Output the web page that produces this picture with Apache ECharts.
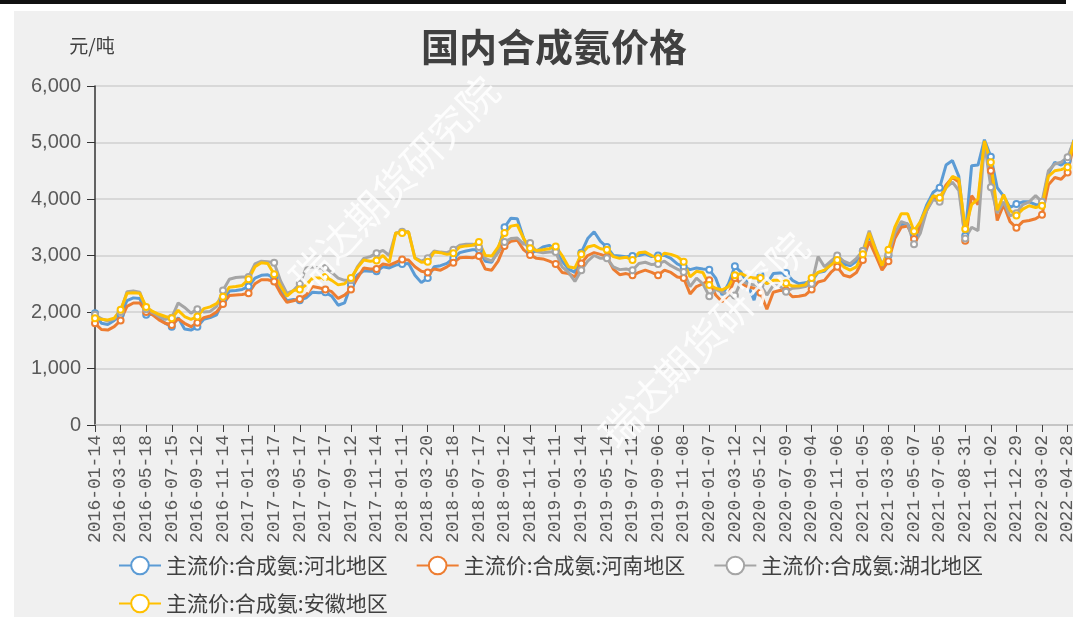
<!DOCTYPE html>
<html>
<head>
<meta charset="utf-8">
<script src="https://cdn.jsdelivr.net/npm/echarts@6/dist/echarts.min.js"></script>
<style>
  html, body { margin: 0; padding: 0; background: #fff; overflow: hidden; }
  body { width: 1073px; height: 634px; position: relative; }
  #topline { position: absolute; left: 0; top: 0; width: 1066px; height: 4px; background: #111; }
  #main { position: absolute; left: 14px; top: 11px; width: 1070px; height: 606px; background: #f0f0f0; }
</style>
</head>
<body>
<div id="topline"></div>
<div id="main"></div>
<script>
// label dates shown on the x axis (every 4th category)
const tickDates = [
    '2016-01-14', '2016-03-18', '2016-05-18', '2016-07-15', '2016-09-12', '2016-11-14',
    '2017-01-11', '2017-03-17', '2017-05-17', '2017-07-17', '2017-09-12', '2017-11-14',
    '2018-01-11', '2018-03-20', '2018-05-18', '2018-07-17', '2018-09-12', '2018-11-14',
    '2019-01-11', '2019-03-14', '2019-05-14', '2019-07-11', '2019-09-06', '2019-11-08',
    '2020-01-07', '2020-03-12', '2020-05-12', '2020-07-09', '2020-09-04', '2020-11-06',
    '2021-01-05', '2021-03-08', '2021-05-07', '2021-07-05', '2021-08-31', '2021-11-02',
    '2021-12-29', '2022-03-02', '2022-04-28'
];
const lastDate = '2022-05-12';

// 元/吨
const hebei = [
    1980, 1800, 1780, 1850,  1950, 2200, 2250, 2240,  1950, 1960, 1880, 1800,  1740, 1900, 1700, 1680,
    1740, 1870, 1900, 1950,  2200, 2370, 2380, 2400,  2450, 2600, 2650, 2660,  2600, 2380, 2200, 2220,
    2210, 2250, 2350, 2340,  2350, 2280, 2120, 2160,  2480, 2650, 2730, 2720,  2720, 2800, 2780, 2830,
    2850, 2860, 2650, 2520,  2600, 2800, 2820, 2860,  2950, 3050, 3080, 3100,  3100, 2900, 2880, 3100,
    3500, 3660, 3650, 3300,  3050, 3080, 3150, 3180,  3100, 2900, 2760, 2700,  3050, 3300, 3420, 3250,
    3150, 3000, 2990, 2980,  2990, 3000, 3030, 2980,  3000, 3000, 2950, 2850,  2800, 2750, 2780, 2760,
    2750, 2600, 2300, 2500,  2810, 2700, 2500, 2210,  2650, 2500, 2680, 2690,  2690, 2560, 2500, 2520,
    2540, 2700, 2720, 2850,  2950, 2850, 2820, 2900,  3080, 3350, 3050, 2800,  3000, 3350, 3550, 3560,
    3350, 3600, 3900, 4120,  4200, 4600, 4680, 4400,  3350, 4590, 4600, 5050,  4750, 4200, 4050, 3850,
    3910, 3950, 3950, 3900,  3900, 4450, 4650, 4600,  4680, 5050
];
const henan = [
    1800, 1690, 1680, 1740,  1850, 2100, 2160, 2160,  2000, 1950, 1860, 1800,  1770, 1880, 1800, 1740,
    1810, 1900, 1930, 2000,  2140, 2290, 2300, 2310,  2330, 2500, 2570, 2570,  2540, 2330, 2170, 2200,
    2230, 2300, 2450, 2430,  2400, 2360, 2240, 2300,  2400, 2600, 2780, 2760,  2760, 2850, 2830, 2880,
    2930, 2920, 2800, 2720,  2700, 2760, 2740, 2800,  2870, 2960, 2970, 2960,  2990, 2760, 2740, 2900,
    3170, 3250, 3270, 3100,  3010, 2950, 2940, 2900,  2850, 2700, 2680, 2620,  2860, 3000, 3050, 3020,
    2980, 2760, 2660, 2680,  2650, 2700, 2740, 2700,  2650, 2740, 2700, 2620,  2600, 2320, 2450, 2500,
    2560, 2300, 2180, 2300,  2600, 2500, 2450, 2420,  2340, 2050, 2350, 2380,  2380, 2270, 2280, 2300,
    2400, 2530, 2560, 2700,  2800, 2650, 2620, 2700,  2920, 3250, 3000, 2740,  2900, 3300, 3500, 3520,
    3290, 3500, 3800, 4020,  4000, 4250, 4380, 4300,  3260, 4060, 3900, 4980,  4500, 3620, 3900, 3600,
    3490, 3600, 3620, 3650,  3720, 4250, 4380, 4350,  4470, 4980
];
const hubei = [
    1950, 1880, 1840, 1880,  2000, 2360, 2370, 2350,  2050, 1990, 1920, 1870,  1900, 2160, 2080, 1980,
    2050, 2000, 2010, 2100,  2380, 2580, 2610, 2620,  2620, 2850, 2900, 2890,  2870, 2550, 2330, 2380,
    2500, 2780, 2800, 2780,  2780, 2700, 2600, 2560,  2560, 2800, 2950, 2980,  3040, 3090, 3000, 3400,
    3420, 3420, 2960, 2900,  2950, 3080, 3060, 3050,  3100, 3180, 3200, 3200,  3150, 2950, 2900, 3050,
    3240, 3300, 3310, 3200,  3220, 3070, 3050, 3060,  3060, 2800, 2700, 2540,  2740, 2900, 3000, 2950,
    2950, 2800, 2750, 2760,  2740, 2860, 2880, 2840,  2850, 2900, 2820, 2760,  2710, 2450, 2600, 2500,
    2280, 2400, 2350, 2300,  2290, 2550, 2500, 2480,  2480, 2300, 2470, 2460,  2360, 2420, 2430, 2450,
    2500, 2980, 2800, 2900,  3000, 2900, 2850, 2950,  3080, 3440, 3120, 2850,  3020, 3400, 3600, 3560,
    3200, 3400, 3800, 3990,  3950, 4200, 4300, 4150,  3300, 3500, 3440, 5000,  4210, 3750, 3950, 3700,
    3750, 3900, 3950, 4060,  3950, 4500, 4620, 4650,  4740, 5040
];
const anhui = [
    1890, 1870, 1860, 1890,  2040, 2330, 2340, 2330,  2090, 2010, 1960, 1920,  1890, 2030, 1920, 1870,
    1920, 2060, 2090, 2150,  2270, 2440, 2450, 2470,  2580, 2800, 2870, 2860,  2670, 2460, 2280, 2380,
    2400, 2480, 2600, 2600,  2620, 2560, 2480, 2500,  2600, 2780, 2920, 2900,  2910, 3000, 2880, 3400,
    3400, 3420, 2950, 2880,  2890, 3060, 3050, 3020,  3040, 3150, 3170, 3180,  3240, 3000, 2990, 3150,
    3400, 3520, 3540, 3300,  3130, 3090, 3100, 3120,  3160, 3000, 2800, 2780,  3020, 3150, 3180, 3120,
    3100, 2980, 2950, 2970,  2920, 3050, 3060, 3000,  2950, 3040, 3020, 2980,  2890, 2620, 2720, 2700,
    2480, 2420, 2390, 2450,  2650, 2680, 2620, 2600,  2600, 2500, 2560, 2560,  2510, 2460, 2460, 2480,
    2600, 2700, 2740, 2830,  2920, 2800, 2740, 2800,  3020, 3400, 3100, 2820,  3100, 3500, 3740, 3740,
    3430, 3600, 3850, 4060,  4020, 4200, 4400, 4350,  3470, 3900, 4000, 5030,  4650, 3800, 4080, 3800,
    3710, 3820, 3880, 3850,  3880, 4400, 4500, 4520,  4560, 5040
];

const seriesNames = ['主流价:合成氨:河北地区', '主流价:合成氨:河南地区', '主流价:合成氨:湖北地区', '主流价:合成氨:安徽地区'];
const seriesColors = ['#5B9BD5', '#ED7D31', '#A5A5A5', '#FFC000'];

// categories: the label dates with three dates spread between each pair
function fmt(d) {
    return d.toISOString().slice(0, 10);
}
let categories = [];
for (let k = 0; k < tickDates.length - 1; k++) {
    let a = new Date(tickDates[k] + 'T00:00:00Z').getTime();
    let b = new Date(tickDates[k + 1] + 'T00:00:00Z').getTime();
    categories.push(tickDates[k]);
    for (let j = 1; j < 4; j++) {
        categories.push(fmt(new Date(a + Math.round((b - a) * j / 4 / 86400000) * 86400000)));
    }
}
categories.push(tickDates[tickDates.length - 1]);
categories.push(lastDate);

const cjk = '"Noto Sans CJK SC", sans-serif';

// legend look, shared by both rows
const legendStyle = {
    left: 99,
    itemWidth: 42,
    itemHeight: 22,
    itemGap: 28,
    textStyle: { fontFamily: cjk, fontSize: 21, color: '#404040' }
};

let plot = echarts.init(document.querySelector('#main'));

const option = {
    backgroundColor: 'transparent',
    animation: false,
    title: {
        text: '国内合成氨价格',
        left: 535,
        textAlign: 'center',
        top: 12,
        textStyle: { fontFamily: cjk, fontSize: 38, fontWeight: 'bold', color: '#404040' }
    },
    graphic: [
        {
            type: 'text', x: 380, y: 173, rotation: Math.PI * 46 / 180, z: 100,
            style: { text: '瑞达期货研究院', fill: 'rgba(255,255,255,0.85)', font: '40px "Noto Sans CJK SC"', align: 'center', verticalAlign: 'middle' }
        },
        {
            type: 'text', x: 690, y: 329, rotation: Math.PI * 46 / 180, z: 100,
            style: { text: '瑞达期货研究院', fill: 'rgba(255,255,255,0.85)', font: '40px "Noto Sans CJK SC"', align: 'center', verticalAlign: 'middle' }
        }
    ],
    legend: [
        Object.assign({ data: seriesNames.slice(0, 3), top: 539 }, legendStyle),
        Object.assign({ data: seriesNames.slice(3), top: 577 }, legendStyle)
    ],
    grid: { left: 81, right: 10, top: 75, bottom: 192 },
    xAxis: {
        type: 'category',
        boundaryGap: false,
        data: categories,
        axisLine: { lineStyle: { color: '#bfbfbf', width: 1.5 } },
        axisTick: { interval: 3, length: 7, lineStyle: { color: '#404040' } },
        axisLabel: {
            interval: 3, rotate: 90, margin: 10,
            fontFamily: '"Liberation Mono", monospace', fontSize: 18, color: '#595959'
        }
    },
    yAxis: {
        type: 'value',
        min: 0, max: 6000, interval: 1000,
        name: '元/吨',
        nameGap: 31,
        nameTextStyle: { fontFamily: cjk, fontSize: 19, color: '#404040', padding: [0, 0, 0, -6] },
        axisLine: { show: true, lineStyle: { color: '#333', width: 1.5 } },
        axisTick: { show: true, length: 8, lineStyle: { color: '#333' } },
        axisLabel: {
            margin: 14, fontFamily: '"Liberation Sans", sans-serif', fontSize: 20, color: '#595959',
            formatter: v => v.toLocaleString('en-US')
        },
        splitLine: { lineStyle: { color: '#d0d0d0', width: 1.5 } }
    },
    series: [hebei, henan, hubei, anhui].map((vals, i) => ({
        name: seriesNames[i],
        type: 'line',
        data: vals,
        color: seriesColors[i],
        symbol: 'emptyCircle',
        symbolSize: 6,
        showAllSymbol: 'auto',
        lineStyle: { width: 3, color: seriesColors[i] },
        itemStyle: { color: seriesColors[i], borderWidth: 1.5 }
    }))
};

plot.setOption(option);
</script>
</body>
</html>
